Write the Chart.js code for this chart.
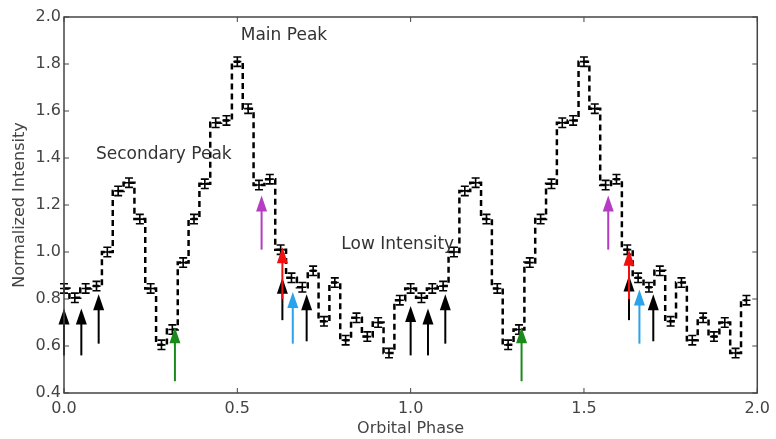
<!DOCTYPE html>
<html>
<head>
<meta charset="utf-8">
<script src="https://cdn.jsdelivr.net/npm/chart.js@4"></script>
<style>
  html, body { margin: 0; padding: 0; background: #fff; }
  #wrap { width: 776px; height: 439px; }
</style>
</head>
<body>
<div id="wrap"><canvas id="lightCurve" width="776" height="439"></canvas></div>
<script>
// phase-folded light curve, 32 bins, plotted over two cycles
const binsPerCycle = 32;
const cycles = 2;
const intensity = [
  0.845, 0.805, 0.845, 0.855, 1.00, 1.26, 1.295, 1.14,
  0.845, 0.605, 0.67, 0.955, 1.14, 1.29, 1.55, 1.56,
  1.81, 1.61, 1.285, 1.31, 1.01, 0.89, 0.85, 0.92,
  0.705, 0.87, 0.625, 0.72, 0.64, 0.70, 0.57, 0.795
];
const intensityErr = 0.02;

const xTicks = [0.0, 0.5, 1.0, 1.5, 2.0];
const yTicks = [0.4, 0.6, 0.8, 1.0, 1.2, 1.4, 1.6, 1.8, 2.0];

// arrows: phase, tail value, tip value, colour
const arrowPhase = [0.0, 0.05, 0.10, 0.32, 0.57, 0.63, 0.63, 0.66, 0.70,
                    1.0, 1.05, 1.10, 1.32, 1.57, 1.63, 1.63, 1.66, 1.70];
const arrowTail  = [0.56, 0.56, 0.61, 0.45, 1.01, 0.71, 0.80, 0.61, 0.62,
                    0.56, 0.56, 0.61, 0.45, 1.01, 0.71, 0.80, 0.61, 0.62];
const arrowTip   = [0.76, 0.76, 0.82, 0.68, 1.24, 0.89, 1.02, 0.83, 0.82,
                    0.77, 0.76, 0.82, 0.68, 1.24, 0.90, 1.01, 0.84, 0.82];
const arrowColor = ["#000", "#000", "#000", "#1a8a1a", "#b63cc4", "#000", "#f01010", "#2aa3ea", "#000",
                    "#000", "#000", "#000", "#1a8a1a", "#b63cc4", "#000", "#f01010", "#2aa3ea", "#000"];

// text labels placed in data coordinates (left edge, middle)
const labelText = ["Main Peak", "Secondary Peak", "Low Intensity"];
const labelX = [0.51, 0.092, 0.80];
const labelY = [1.92, 1.415, 1.03];

const points = [];
for (let c = 0; c < cycles; c++) {
  intensity.forEach((v, i) => {
    points.push({ x: c + i / binsPerCycle, y: v });
  });
}

const fontFamily = "'DejaVu Sans', sans-serif";

const decorations = {
  id: "decorations",
  afterDatasetsDraw(chart) {
    const { ctx, chartArea: area, scales } = chart;
    const xs = scales.x, ys = scales.y;
    ctx.save();

    // error bars
    ctx.strokeStyle = "#000";
    ctx.lineWidth = 1.6;
    points.forEach((p) => {
      const px = xs.getPixelForValue(p.x);
      const top = ys.getPixelForValue(p.y + intensityErr);
      const bot = ys.getPixelForValue(p.y - intensityErr);
      const mid = ys.getPixelForValue(p.y);
      ctx.beginPath();
      ctx.moveTo(px, top); ctx.lineTo(px, bot);
      ctx.moveTo(px - 4, top); ctx.lineTo(px + 4, top);
      ctx.moveTo(px - 4, bot); ctx.lineTo(px + 4, bot);
      ctx.moveTo(px - 4, mid); ctx.lineTo(px + 4, mid);
      ctx.stroke();
    });

    // arrows
    arrowPhase.forEach((ph, i) => {
      const px = xs.getPixelForValue(ph);
      const tail = ys.getPixelForValue(arrowTail[i]);
      const tip = ys.getPixelForValue(arrowTip[i]);
      const headLen = 16, headHalf = 5.5;
      ctx.strokeStyle = arrowColor[i];
      ctx.fillStyle = arrowColor[i];
      ctx.lineWidth = 2;
      ctx.beginPath();
      ctx.moveTo(px, tail);
      ctx.lineTo(px, tip + headLen - 1);
      ctx.stroke();
      ctx.beginPath();
      ctx.moveTo(px, tip);
      ctx.lineTo(px - headHalf, tip + headLen);
      ctx.lineTo(px + headHalf, tip + headLen);
      ctx.closePath();
      ctx.fill();
    });

    // annotations
    ctx.fillStyle = "#333";
    ctx.font = "17px " + fontFamily;
    ctx.textBaseline = "middle";
    ctx.textAlign = "left";
    labelText.forEach((t, i) => {
      ctx.fillText(t, xs.getPixelForValue(labelX[i]), ys.getPixelForValue(labelY[i]));
    });

    // frame and inward ticks on all sides
    ctx.strokeStyle = "#444";
    ctx.lineWidth = 1.5;
    ctx.strokeRect(area.left, area.top, area.right - area.left, area.bottom - area.top);
    ctx.lineWidth = 1;
    ctx.beginPath();
    xTicks.forEach((v) => {
      const px = xs.getPixelForValue(v);
      ctx.moveTo(px, area.bottom); ctx.lineTo(px, area.bottom - 5);
      ctx.moveTo(px, area.top); ctx.lineTo(px, area.top + 5);
    });
    yTicks.forEach((v) => {
      const py = ys.getPixelForValue(v);
      ctx.moveTo(area.left, py); ctx.lineTo(area.left + 5, py);
      ctx.moveTo(area.right, py); ctx.lineTo(area.right - 5, py);
    });
    ctx.stroke();
    ctx.restore();
  }
};

const ctx = document.getElementById("lightCurve").getContext("2d");
new Chart(ctx, {
  type: "line",
  data: {
    datasets: [{
      data: points,
      stepped: "middle",
      borderColor: "#000",
      borderWidth: 2.5,
      borderDash: [6, 4],
      pointRadius: 0,
      fill: false
    }]
  },
  options: {
    responsive: false,
    animation: false,
    layout: { padding: { top: 17, right: 13, left: 0, bottom: 0 } },
    plugins: { legend: { display: false }, tooltip: { enabled: false } },
    scales: {
      x: {
        type: "linear",
        min: 0, max: 2,
        afterFit: (scale) => { scale.height = 46; },
        afterBuildTicks: (scale) => { scale.ticks = xTicks.map((v) => ({ value: v })); },
        grid: { display: false, drawTicks: false },
        border: { display: false },
        ticks: {
          padding: 6,
          color: "#444",
          font: { size: 16, family: fontFamily },
          callback: (v) => v.toFixed(1)
        },
        title: {
          display: true,
          text: "Orbital Phase",
          color: "#444",
          font: { size: 16, family: fontFamily },
          padding: { top: 0, bottom: 1 }
        }
      },
      y: {
        type: "linear",
        min: 0.4, max: 2.0,
        afterFit: (scale) => { scale.width = 64; },
        afterBuildTicks: (scale) => { scale.ticks = yTicks.map((v) => ({ value: v })); },
        grid: { display: false, drawTicks: false },
        border: { display: false },
        ticks: {
          padding: 3,
          color: "#444",
          font: { size: 16, family: fontFamily },
          callback: (v) => v.toFixed(1)
        },
        title: {
          display: true,
          text: "Normalized Intensity",
          color: "#444",
          font: { size: 16, family: fontFamily },
          padding: { top: 10, bottom: 0 }
        }
      }
    }
  },
  plugins: [decorations]
});
</script>
</body>
</html>
